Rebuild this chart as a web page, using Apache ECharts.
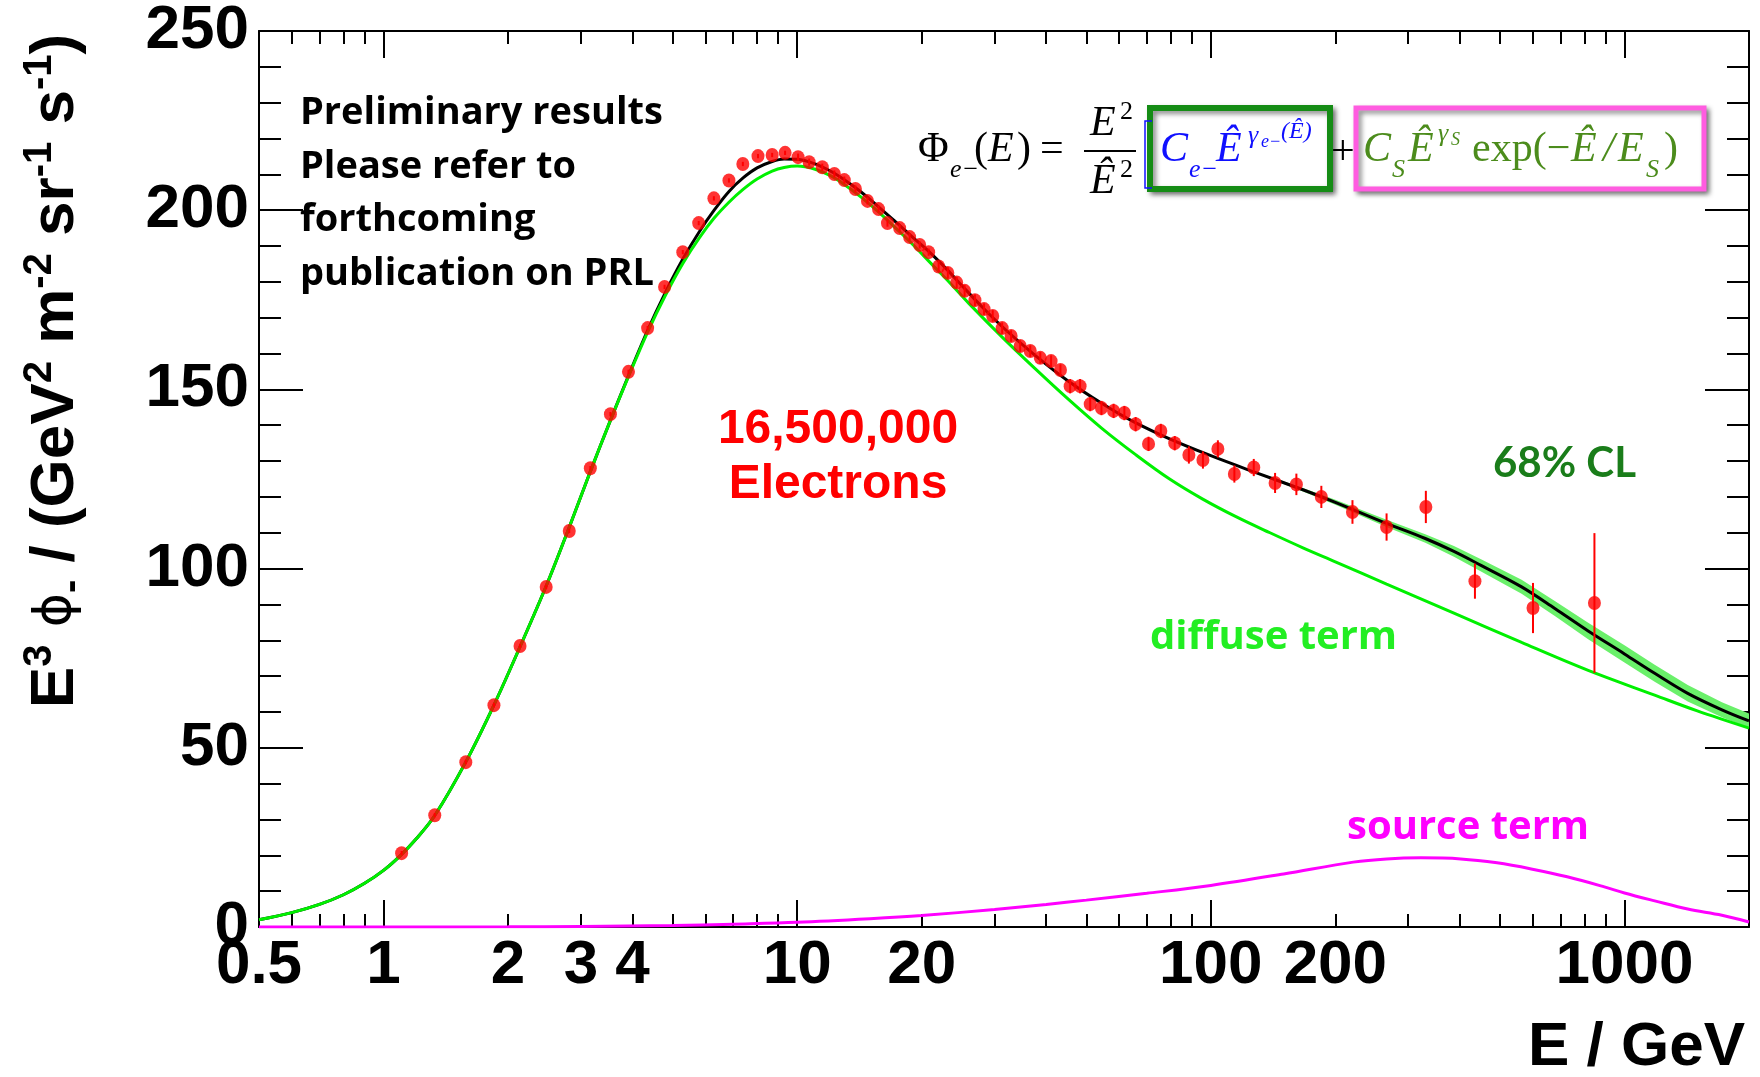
<!DOCTYPE html>
<html><head><meta charset="utf-8">
<script src="https://cdn.jsdelivr.net/npm/echarts@6/dist/echarts.min.js"></script>
<style>html,body{margin:0;padding:0;background:#fff}#c{width:1760px;height:1077px}</style>
</head><body><div id="c"></div>
<script>
// ---------------- DATA ----------------
const energy = [1.106,1.330,1.581,1.849,2.138,2.473,2.812,3.162,3.536,3.91,4.35,4.78,5.29,5.78,6.29,6.84,7.39,8.04,8.70,9.35,10.05,10.69,11.50,12.30,13.00,13.83,14.79,15.73,16.53,17.69,18.70,19.78,20.79,21.98,23.13,24.3,25.4,26.9,28.3,29.7,31.3,32.9,34.6,36.6,38.7,41.1,43.3,45.7,48.3,51.1,54.4,58.2,61.8,65.8,70.7,75.7,81.8,88.5,95.7,104,114,127,143,161,185,220,266,331,435,601,846];
const flux = [20.6,31.2,46.0,61.9,78.4,94.9,110.5,128.0,143.1,154.9,167.1,178.6,188.3,196.4,203.3,208.3,212.9,215.1,215.4,216.0,214.8,213.4,212.0,210.1,208.4,205.9,202.6,200.3,196.4,195.0,192.5,190.3,188.3,184.3,182.5,179.8,177.5,174.9,172.4,170.5,167.1,164.9,162.1,160.7,158.8,157.9,155.4,150.9,150.9,145.9,144.8,144.0,143.4,140.3,134.8,138.4,135.0,131.7,130.3,133.4,126.4,128.2,123.9,123.5,120.0,115.8,111.6,117.2,96.5,89.0,90.4];
const fluxErr = [0.6,0.6,0.6,0.6,0.6,0.6,0.6,0.6,0.6,0.6,0.6,0.6,0.6,0.6,0.6,0.6,0.6,0.6,0.6,0.6,
  1.0,1.0,1.0,1.0,1.0,1.0,1.0,1.0,1.0,1.0,1.0,1.0,1.0,
  1.6,1.6,1.6,1.6,1.6,1.6,1.6,1.6,1.6,1.6,1.6,1.6,1.6,1.6,
  2.0,2.0,2.0,2.0,2.0,2.0,2.0,2.0,2.0,2.0,
  2.4,2.4,2.4,2.4,2.4,
  2.8,3.0,3.1,3.3,3.8,4.5,4.9,7.0,19.5];

// total fit (black)
const fitE = [0.5,0.6,0.7,0.8,0.9,1.0,1.1,1.2,1.33,1.58,1.85,2.14,2.47,2.8,3.16,3.54,3.9,4.35,4.8,5.3,5.8,6.3,6.85,7.4,8.0,8.7,9.3,10,11,12,13,14.3,15.7,17.2,19,20.8,23,25,28,32,37.6,45,54.7,65,79.5,100,127,167,200,266,330,387,450,564,680,817,1000,1183,1422,1720,2000];
const totalFit = [2.0,4.0,6.3,9.0,12.2,15.8,20.0,24.6,31.1,46.0,62.0,78.3,95.0,111.0,127.0,141.5,153.5,166.5,177.0,186.5,194.0,200.0,205.3,209.0,211.8,213.6,214.3,214.2,213.0,211.0,208.5,205.0,201.0,197.0,192.5,188.5,183.5,179.0,173.0,166.5,159.5,152.5,146.0,141.0,136.2,131.5,127.0,122.0,118.5,112.6,108.4,104.8,100.9,94.9,88.8,82.6,76.2,70.8,65.2,60.6,57.5];
// diffuse term (green)
const diffE = [0.5,0.6,0.7,0.8,0.9,1.0,1.1,1.2,1.33,1.58,1.85,2.14,2.47,2.8,3.16,3.54,3.9,4.35,4.8,5.3,5.8,6.3,6.85,7.4,8.0,8.7,9.3,10,11,12,13,14.3,15.7,17.2,19,21,23.5,26,31.3,37.6,45.5,54.7,65.8,79.5,95.6,115,139,167,200,266,387,564,817,1183,1500,2000];
const diffuseTerm = [2.0,4.0,6.3,9.0,12.2,15.8,20.0,24.6,31.1,46.0,62.0,78.3,95.0,111.0,127.0,141.5,153.3,166.0,176.2,185.3,192.3,197.8,202.3,205.8,208.7,210.9,211.9,212.3,211.5,209.7,207.2,203.6,199.6,195.3,190.5,185.3,179.5,174.0,164.6,155.8,147.0,139.0,131.8,125.0,119.4,114.5,110.0,105.8,101.9,95.7,87.6,79.4,71.6,64.7,60.3,55.5];

// source term (magenta)
const sourceE = [0.5,1,2,3,5,7,10,15,20,30,40,50,70,100,150,221,266,322,402,492,595,727,894,1000,1183,1422,1720,2000];
const sourceTerm = [0,0,0.05,0.15,0.4,0.8,1.3,2.3,3.2,4.9,6.3,7.5,9.4,11.6,14.8,18.1,19.0,19.3,19.0,17.9,16.2,14.0,11.2,9.5,7.3,5.0,3.3,1.4];

// 68% CL band
const bandE = [127,167,200,266,330,387,450,564,680,817,1000,1183,1422,1720,2000];
const bandLow = [126.8,121.5,117.8,111.6,107.2,103.3,99.2,93.0,86.7,80.3,73.8,68.4,62.9,58.5,55.5];
const bandHigh = [127.2,122.5,119.2,113.6,109.6,106.3,102.6,96.9,90.9,84.9,78.6,73.2,67.5,62.7,59.6];

// axis ticks
const xTickLabels = [0.5,1,2,3,4,10,20,100,200,1000];
const xMajorTicks = [1,10,100,1000];
const xMinorTicks = [0.6,0.7,0.8,0.9,2,3,4,5,6,7,8,9,20,30,40,50,60,70,80,90,200,300,400,500,600,700,800,900];

// ---------------- CHART ----------------
const chart = echarts.init(document.getElementById('c'), null, {renderer:'canvas'});
const BLACK = '#000';
const labelFont = {fontFamily:'Liberation Sans', fontWeight:'bold', fontSize:62, color:'#000'};

function xAx(pos, ticks, len, showLine, showLabel){
  return {
    type:'log', logBase:10, min:0.5, max:2000, gridIndex:0, position:pos,
    axisLine:{show:showLine, onZero:false, lineStyle:{color:BLACK, width:2}},
    axisTick:{show:true, inside:true, length:len, customValues:ticks, lineStyle:{color:BLACK, width:2}},
    axisLabel: showLabel ? Object.assign({show:true, customValues:xTickLabels, margin:8,
      formatter:v=>String(+(+v).toPrecision(6))}, labelFont) : {show:false},
    minorTick:{show:false}, splitLine:{show:false}
  };
}
function yAx(pos, showLabel){
  return {
    type:'value', min:0, max:250, interval:50, gridIndex:0, position:pos,
    axisLine:{show:true, onZero:false, lineStyle:{color:BLACK, width:2}},
    axisTick:{show:true, inside:true, length:44, lineStyle:{color:BLACK, width:2}},
    minorTick:{show:true, splitNumber:5, length:22, lineStyle:{color:BLACK, width:2}},
    axisLabel: showLabel ? Object.assign({show:true, margin:10}, labelFont) : {show:false},
    splitLine:{show:false}, minorSplitLine:{show:false}
  };
}

const T = (text, x, y, o) => ({type:'text', x, y, z:50, silent:true,
  style:Object.assign({text, fill:'#000', fontSize:42, fontFamily:'Liberation Serif', fontStyle:'normal',
    fontWeight:'normal', align:'left', verticalAlign:'middle'}, o||{})});
const IT = {fontStyle:'italic'};
const SUB = {fontSize:26, fontStyle:'italic'};
const BLUE = '#1010ff', OLIVE = '#4c8c1c';
const SANSB = {fontFamily:'Open Sans', fontWeight:'bold'};

const graphics = [
  // y-axis title
  {type:'text', x:56, y:371, rotation:Math.PI/2, z:50, silent:true,
   style:{text:'{m|E}{p|3}{m| }{f|ϕ}{s|-}{m| / (GeV}{p|2}{m| m}{p|-2}{m| sr}{p|-1}{m| s}{p|-1}{m|)}',
     align:'center', verticalAlign:'middle', fill:'#000',
     rich:{
       m:{fontSize:62, fontWeight:'bold', fontFamily:'Liberation Sans', lineHeight:72, fill:'#000'},
       p:{fontSize:40, fontWeight:'bold', fontFamily:'Liberation Sans', lineHeight:30, verticalAlign:'top', fill:'#000'},
       f:{fontSize:52, fontWeight:'normal', fontFamily:'DejaVu Sans', lineHeight:72, fill:'#000'},
       s:{fontSize:40, fontWeight:'bold', fontFamily:'Liberation Sans', lineHeight:30, verticalAlign:'bottom', fill:'#000'}
     }}},
  // x-axis title
  T('E / GeV', 1745, 1048, {align:'right', fontFamily:'Liberation Sans', fontWeight:'bold', fontSize:62}),
  // annotations
  T('Preliminary results', 300, 113, Object.assign({fontSize:38}, SANSB)),
  T('Please refer to', 300, 167, Object.assign({fontSize:38}, SANSB)),
  T('forthcoming', 300, 220, Object.assign({fontSize:38}, SANSB)),
  T('publication on PRL', 300, 274, Object.assign({fontSize:38}, SANSB)),
  T('16,500,000', 838, 430, {align:'center', fontFamily:'Liberation Sans', fontWeight:'bold', fontSize:48, fill:'#ff0000'}),
  T('Electrons', 838, 485, {align:'center', fontFamily:'Liberation Sans', fontWeight:'bold', fontSize:48, fill:'#ff0000'}),
  T('68% CL', 1493, 463, {fontFamily:'Lato', fontWeight:'bold', fontSize:42, fill:'#1a7d1a'}),
  T('diffuse term', 1150, 638, Object.assign({fontSize:40, fill:'#22ee22'}, SANSB)),
  T('source term', 1347, 828, Object.assign({fontSize:40, fill:'#ff00ff'}, SANSB)),
  // formula boxes
  {type:'rect', z:40, silent:true, shape:{x:1150, y:108, width:180, height:81},
   style:{fill:'#fff', stroke:'#158c15', lineWidth:6, shadowBlur:5, shadowColor:'rgba(0,0,0,0.45)', shadowOffsetX:3, shadowOffsetY:3}},
  {type:'rect', z:40, silent:true, shape:{x:1356, y:108, width:348, height:81},
   style:{fill:'#fff', stroke:'#ff5ce0', lineWidth:5, shadowBlur:5, shadowColor:'rgba(0,0,0,0.45)', shadowOffsetX:3, shadowOffsetY:3}},
  {type:'polyline', z:41, silent:true, shape:{points:[[1152,121],[1145,121],[1145,188],[1152,188]]}, style:{stroke:BLUE, lineWidth:1.5, fill:null}},
  // formula text
  T('Φ', 918, 150),
  T('e−', 950, 170, SUB),
  T('(', 974, 150), T('E', 988, 150, IT), T(')', 1017, 150),
  T('=', 1040, 150),
  T('E', 1090, 124, IT), T('2', 1120, 112, {fontSize:26}),
  {type:'line', z:50, silent:true, shape:{x1:1084, y1:151, x2:1136, y2:151}, style:{stroke:'#000', lineWidth:2}},
  T('Ê', 1090, 182, IT), T('2', 1120, 170, {fontSize:26}),
  T('C', 1160, 150, Object.assign({fill:BLUE}, IT)),
  T('e−', 1189, 170, Object.assign({fill:BLUE}, SUB)),
  T('Ê', 1216, 150, Object.assign({fill:BLUE}, IT)),
  T('γ', 1248, 136, Object.assign({fill:BLUE}, SUB)),
  T('e−', 1261, 142, {fill:BLUE, fontSize:18, fontStyle:'italic'}),
  T('(Ê)', 1281, 132, {fill:BLUE, fontSize:24, fontStyle:'italic'}),
  T('+', 1331, 153),
  T('C', 1363, 150, Object.assign({fill:OLIVE}, IT)),
  T('S', 1392, 170, Object.assign({fill:OLIVE}, SUB)),
  T('Ê', 1408, 150, Object.assign({fill:OLIVE}, IT)),
  T('γ', 1438, 134, Object.assign({fill:OLIVE}, SUB)),
  T('S', 1451, 140, {fill:OLIVE, fontSize:18, fontStyle:'italic'}),
  T('exp(−', 1472, 150, {fill:OLIVE}),
  T('Ê', 1571, 150, Object.assign({fill:OLIVE}, IT)),
  T('/', 1603, 150, Object.assign({fill:OLIVE}, IT)),
  T('E', 1618, 150, Object.assign({fill:OLIVE}, IT)),
  T('S', 1646, 170, Object.assign({fill:OLIVE}, SUB)),
  T(')', 1664, 150, {fill:OLIVE})
];

const option = {
  animation:false,
  backgroundColor:'#fff',
  grid:{left:259, right:11, top:31, bottom:150, containLabel:false, outerBoundsMode:'none'},
  xAxis:[
    xAx('bottom', xMajorTicks, 27, true, true),
    xAx('bottom', xMinorTicks, 13, false, false),
    xAx('top', xMajorTicks, 27, true, false),
    xAx('top', xMinorTicks, 13, false, false)
  ],
  yAxis:[ yAx('left', true), yAx('right', false) ],
  graphic:graphics,
  series:[
    {name:'68% CL', type:'custom', data:bandE.map((e,i)=>[e,bandLow[i],bandHigh[i]]), encode:{x:0, y:[1,2]},
     silent:true, z:2, clip:true,
     renderItem:(params, api)=>{
       if (params.dataIndex !== 0) return null;
       const lo = bandE.map((e,i)=>api.coord([e, bandLow[i]]));
       const hi = bandE.map((e,i)=>api.coord([e, bandHigh[i]])).reverse();
       return {type:'polygon', shape:{points:lo.concat(hi), smooth:0}, style:{fill:'#6af06a', stroke:null}};
     }},
    {name:'total', type:'line', data:fitE.map((e,i)=>[e,totalFit[i]]), symbol:'none', smooth:0.35,
     lineStyle:{color:'#000', width:3}, silent:true, z:3},
    {name:'diffuse', type:'line', data:diffE.map((e,i)=>[e,diffuseTerm[i]]), symbol:'none', smooth:0.35,
     lineStyle:{color:'#00f000', width:3}, silent:true, z:4},
    {name:'source', type:'line', data:sourceE.map((e,i)=>[e,sourceTerm[i]]), symbol:'none', smooth:0.35,
     lineStyle:{color:'#ff00ff', width:3}, silent:true, z:4},
    {name:'errors', type:'custom', data:energy.map((e,i)=>[e,flux[i],fluxErr[i]]), z:5, silent:true,
     encode:{x:0, y:1},
     renderItem:(params, api)=>{
       const x = api.value(0), y = api.value(1), er = api.value(2);
       const p1 = api.coord([x, y-er]), p2 = api.coord([x, y+er]);
       return {type:'line', shape:{x1:p1[0], y1:p1[1], x2:p2[0], y2:p2[1]}, style:{stroke:'#ff0000', lineWidth:2}};
     }},
    {name:'data', type:'scatter', data:energy.map((e,i)=>[e,flux[i]]), symbol:'circle', symbolSize:[13,14],
     itemStyle:{color:'#ff0000'}, silent:true, z:6}
  ]
};
chart.setOption(option);
</script></body></html>
